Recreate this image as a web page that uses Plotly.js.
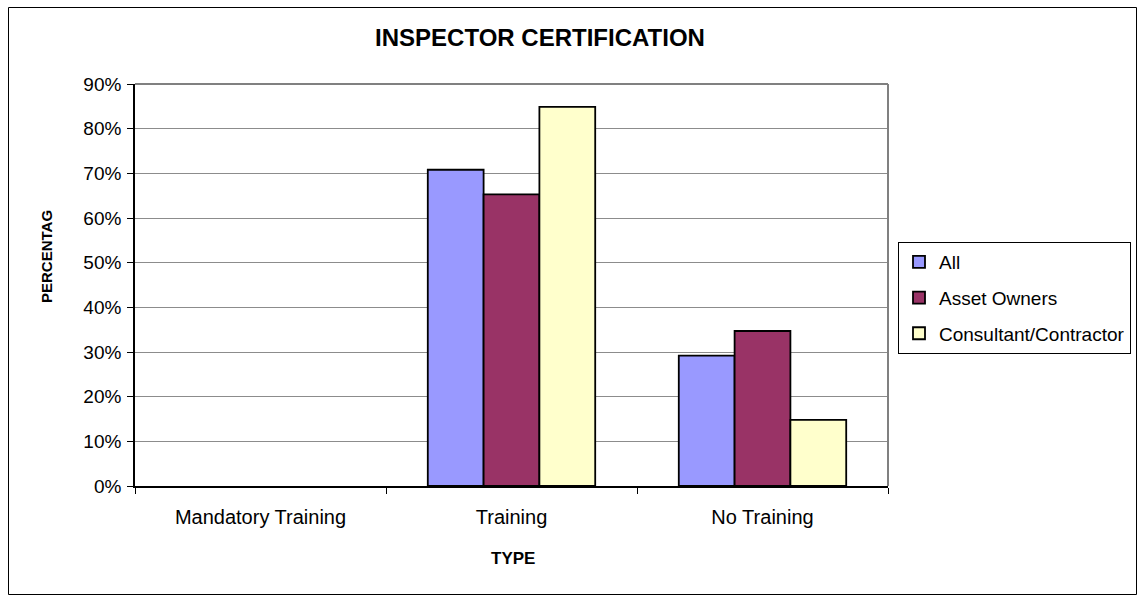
<!DOCTYPE html>
<html>
<head>
<meta charset="utf-8">
<script src="https://cdn.plot.ly/plotly-3.0.1.min.js"></script>
<style>
  html, body { margin: 0; padding: 0; background: #ffffff; }
  #chart { width: 1138px; height: 596px; }
</style>
</head>
<body>
<div id="chart"></div>
<script>
const categories = ["Mandatory Training", "Training", "No Training"];
const seriesNames = ["All", "Asset Owners", "Consultant/Contractor"];
const allValues = [0, 0.708, 0.292];
const assetOwnerValues = [0, 0.653, 0.347];
const consultantValues = [0, 0.849, 0.148];
const yTickValues = [0, 0.1, 0.2, 0.3, 0.4, 0.5, 0.6, 0.7, 0.8, 0.9];

const colors = ["#9999FF", "#993366", "#FFFFCC"];
const seriesValues = [allValues, assetOwnerValues, consultantValues];
const FONT = "Liberation Sans, Arial, sans-serif";

// Zero-valued bars have no height; they are left out so no stray outline is drawn
// on the axis (the category itself stays on the axis through categoryarray).
const traces = seriesNames.map((name, i) => {
  const keep = seriesValues[i].map((v, j) => j).filter(j => seriesValues[i][j] !== 0);
  return {
    type: "bar",
    name: name,
    legendgroup: "g" + i,
    x: keep.map(j => categories[j]),
    y: keep.map(j => seriesValues[i][j]),
    marker: { color: colors[i], line: { color: "#000000", width: 1.8 } },
    hoverinfo: "x+y+name"
  };
});

const L = 135, R = 888, T = 84, B = 486, W = 1138, H = 596;
const pw = R - L, ph = B - T;
const px = v => (v - L) / pw;
const py = v => (B - v) / ph;

const layout = {
  width: W,
  height: H,
  margin: { l: L, r: W - R, t: T, b: H - B, pad: 0, autoexpand: false },
  paper_bgcolor: "#ffffff",
  plot_bgcolor: "#ffffff",
  font: { family: FONT, color: "#000000", size: 18 },
  title: {
    text: "<b>INSPECTOR CERTIFICATION</b>",
    font: { family: FONT, size: 24, color: "#000000" },
    xref: "paper", x: px(540), xanchor: "center",
    yref: "container", y: 1 - 38 / H, yanchor: "middle"
  },
  barmode: "group",
  bargap: 0.333,
  bargroupgap: 0,
  xaxis: {
    type: "category",
    categoryorder: "array",
    categoryarray: categories,
    range: [-0.5, categories.length - 0.5],
    showline: true, linecolor: "#000000", linewidth: 1.8,
    layer: "above traces",
    ticks: "outside", tickson: "boundaries", ticklen: 6, tickcolor: "#000000", tickwidth: 1,
    ticklabelstandoff: 12,
    tickfont: { family: FONT, size: 20, color: "#000000" },
    showgrid: false, zeroline: false,
    fixedrange: true
  },
  yaxis: {
    range: [0, 0.9],
    tickvals: yTickValues,
    tickformat: ".0%",
    showline: true, linecolor: "#000000", linewidth: 1.8,
    layer: "above traces",
    ticks: "outside", ticklen: 6, tickcolor: "#000000", tickwidth: 1,
    ticklabelstandoff: 2,
    tickfont: { family: FONT, size: 19, color: "#000000" },
    showgrid: true, gridcolor: "#8c8c8c", gridwidth: 1,
    zeroline: false,
    fixedrange: true
  },
  annotations: [
    { text: "<b>TYPE</b>", xref: "paper", yref: "paper",
      x: px(513), y: py(558), xanchor: "center", yanchor: "middle",
      showarrow: false, font: { family: FONT, size: 17, color: "#000000" } },
    { text: "<b>PERCENTAG</b>", xref: "paper", yref: "paper", textangle: -90,
      x: px(46), y: py(257), xanchor: "center", yanchor: "middle",
      showarrow: false, font: { family: FONT, size: 15, color: "#000000" } }
  ],
  legend: {
    x: px(898), xanchor: "left",
    y: py(242), yanchor: "top",
    bgcolor: "#ffffff",
    bordercolor: "#000000", borderwidth: 1,
    font: { family: FONT, size: 19, color: "#000000" },
    traceorder: "grouped",
    tracegroupgap: 8
  },
  shapes: [
    { type: "line", xref: "paper", yref: "paper", x0: 0, x1: 1, y0: 1, y1: 1,
      line: { color: "#808080", width: 2 } },
    { type: "line", xref: "paper", yref: "paper", x0: 1, x1: 1, y0: 0, y1: 1,
      line: { color: "#808080", width: 2 } },
    { type: "rect", xref: "paper", yref: "paper",
      x0: px(8.5), x1: px(1136.5), y0: py(594.5), y1: py(7.5),
      line: { color: "#000000", width: 1 }, fillcolor: "rgba(0,0,0,0)" }
  ],
  showlegend: true
};

Plotly.newPlot("chart", traces, layout, { displayModeBar: false, staticPlot: true });
</script>
</body>
</html>
